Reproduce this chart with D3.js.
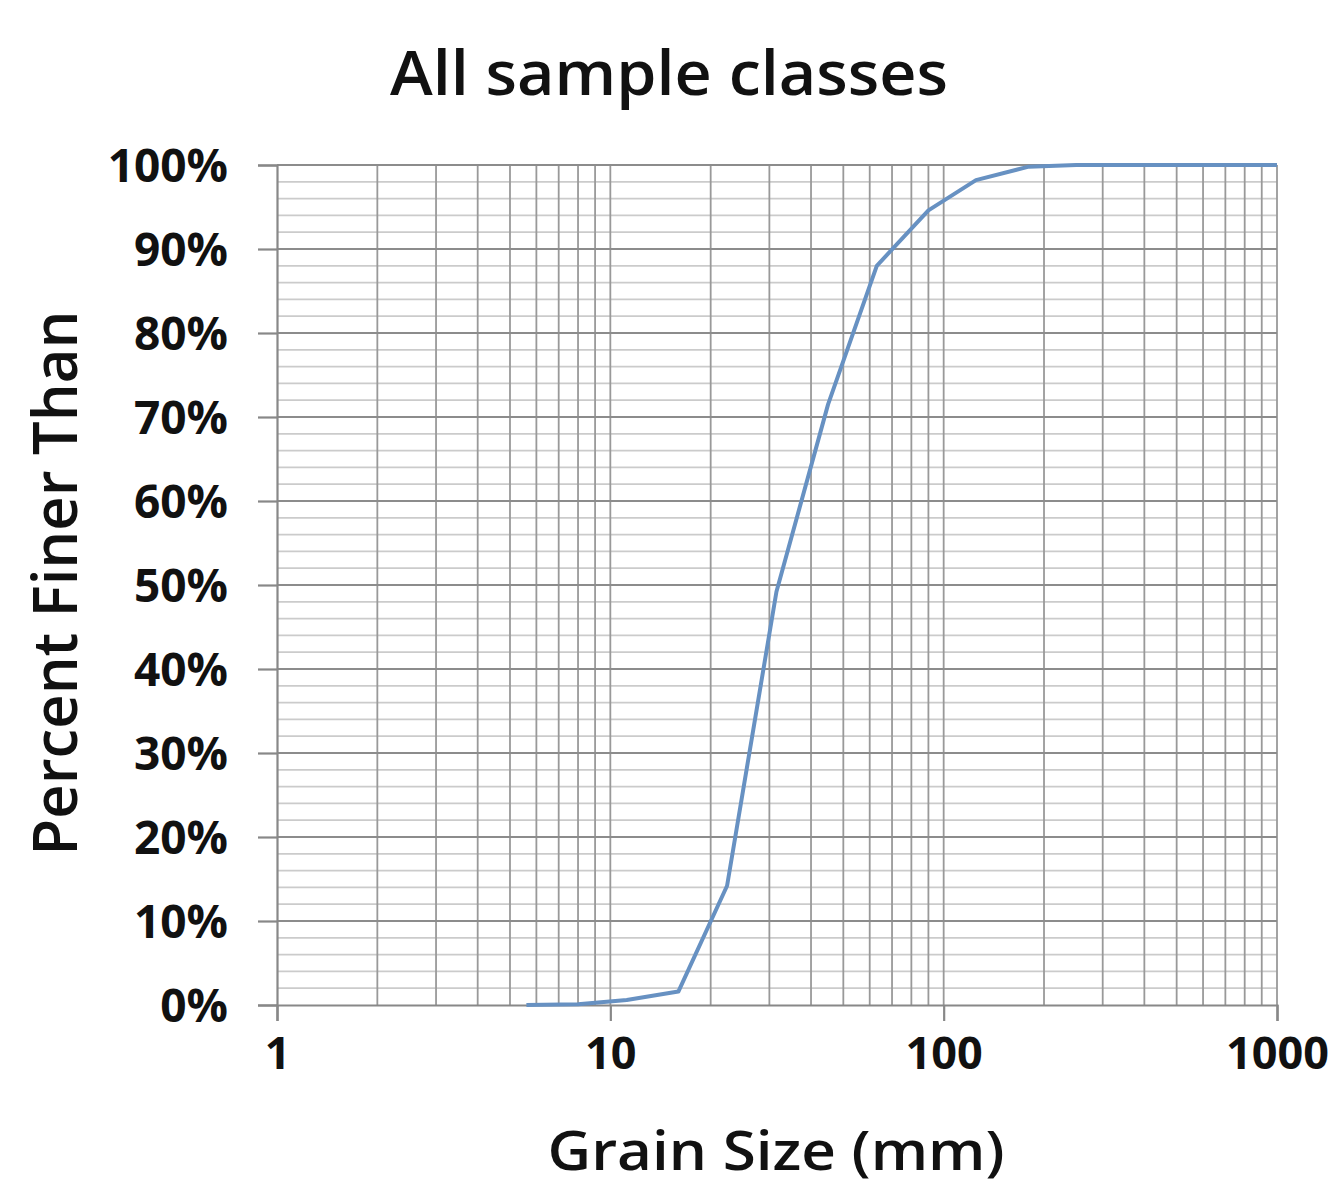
<!DOCTYPE html>
<html>
<head>
<meta charset="utf-8">
<script src="https://cdn.jsdelivr.net/npm/d3@7"></script>
<style>
  body { margin: 0; background: #fff; }
  text { font-family: "Open Sans", "DejaVu Sans", sans-serif; fill: #111; }
</style>
</head>
<body>
<div id="chart"></div>
<script>
// sieve sizes (mm) and cumulative percent finer
var sizes = [5.6, 8, 11.2, 16, 22.4, 31.5, 45, 63, 90, 125, 180, 250, 355, 500, 710, 1000];
var finer = [0, 0.1, 0.6, 1.6, 14.2, 49.2, 71.5, 88, 94.6, 98.2, 99.8, 100, 100, 100, 100, 100];
var xTicks = [1, 10, 100, 1000];
var yTicks = [0, 10, 20, 30, 40, 50, 60, 70, 80, 90, 100];

(function(){
  var width = 1336, height = 1188;
  var plotLeft = 277, plotRight = 1277, plotTop = 165, plotBottom = 1005;

  var svg = d3.select('#chart').append('svg')
    .attr('width', width)
    .attr('height', height)

  var x = d3.scaleLog().domain([1, 1000]).range([plotLeft, plotRight])
  var y = d3.scaleLinear().domain([0, 100]).range([plotBottom, plotTop])

  var grid = svg.append('g')

  // minor horizontal lines every 2%
  grid.selectAll('.hmin')
    .data(d3.range(2, 100, 2).filter(function(d){ return d % 10 != 0 }))
    .enter().append('line')
    .attr('x1', plotLeft).attr('x2', plotRight)
    .attr('y1', function(d){ return y(d) }).attr('y2', function(d){ return y(d) })
    .attr('stroke', '#cbcbcb').attr('stroke-width', 1.8)

  // vertical lines at every integer multiple in each decade
  var vLines = []
  ;[1, 10, 100].forEach(function(dec){
    for (var k = 2; k <= 10; k++) vLines.push(dec * k)
  })
  grid.selectAll('.v')
    .data(vLines)
    .enter().append('line')
    .attr('x1', function(d){ return x(d) }).attr('x2', function(d){ return x(d) })
    .attr('y1', plotTop).attr('y2', plotBottom)
    .attr('stroke', '#999').attr('stroke-width', 1.8)

  // major horizontal lines
  grid.selectAll('.hmaj')
    .data(yTicks.slice(1))
    .enter().append('line')
    .attr('x1', plotLeft).attr('x2', plotRight)
    .attr('y1', function(d){ return y(d) }).attr('y2', function(d){ return y(d) })
    .attr('stroke', '#8c8c8c').attr('stroke-width', 2.2)

  // axes
  var yAxis = d3.axisLeft(y).tickValues(yTicks).tickSize(19).tickPadding(30)
    .tickFormat(function(d){ return d + '%' })
  var gy = svg.append('g').attr('transform', 'translate(' + plotLeft + ',0)').call(yAxis)
  gy.select('.domain').attr('stroke', '#888').attr('stroke-width', 2.2)
  gy.selectAll('.tick line').attr('stroke', '#888').attr('stroke-width', 2.2)
  gy.selectAll('.tick text')
    .style('font-size', '46px').style('font-weight', 700)
    .attr('x', -49).attr('dy', '0.36em')

  var xAxis = d3.axisBottom(x).tickValues(xTicks).tickSize(16).tickPadding(22)
    .tickFormat(d3.format('d'))
  var gx = svg.append('g').attr('transform', 'translate(0,' + plotBottom + ')').call(xAxis)
  gx.select('.domain').attr('stroke', '#888').attr('stroke-width', 2.2)
  gx.selectAll('.tick line').attr('stroke', '#888').attr('stroke-width', 2.2)
  gx.selectAll('.tick text')
    .style('font-size', '45px').style('font-weight', 700)
    .attr('y', 32).attr('dy', '0.71em')

  // curve
  var pts = sizes.map(function(s, i){ return [s, finer[i]] })
  var line = d3.line()
    .x(function(d){ return x(d[0]) })
    .y(function(d){ return y(d[1]) })
  svg.append('path')
    .datum(pts)
    .attr('d', line)
    .attr('fill', 'none')
    .attr('stroke', '#6791c2')
    .attr('stroke-width', 4)
    .attr('stroke-linejoin', 'round')

  // titles
  svg.append('text')
    .attr('x', 669).attr('y', 95)
    .attr('text-anchor', 'middle')
    .style('font-size', '62px').style('font-weight', 600)
    .attr('textLength', 558).attr('lengthAdjust', 'spacingAndGlyphs')
    .text('All sample classes')

  svg.append('text')
    .attr('transform', 'translate(77,583) rotate(-90)')
    .attr('text-anchor', 'middle')
    .style('font-size', '62px').style('font-weight', 600)
    .attr('textLength', 545).attr('lengthAdjust', 'spacingAndGlyphs')
    .text('Percent Finer Than')

  svg.append('text')
    .attr('x', 776).attr('y', 1170)
    .attr('text-anchor', 'middle')
    .style('font-size', '54px').style('font-weight', 600)
    .attr('textLength', 457).attr('lengthAdjust', 'spacingAndGlyphs')
    .text('Grain Size (mm)')
})()
</script>
</body>
</html>
